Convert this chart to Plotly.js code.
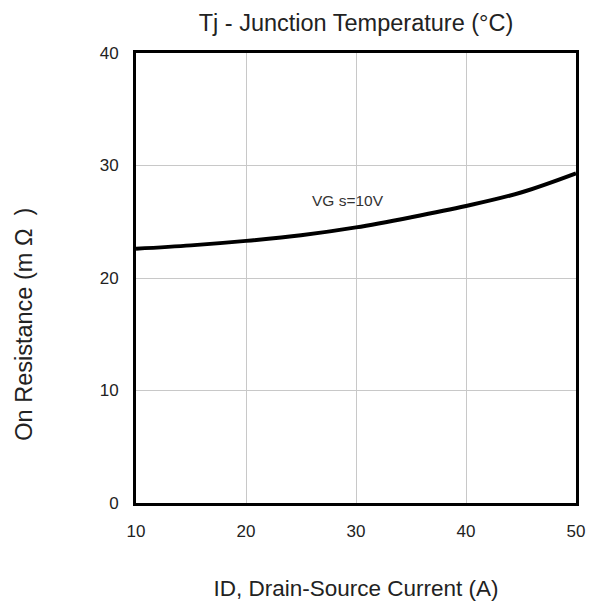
<!DOCTYPE html>
<html>
<head>
<meta charset="utf-8">
<script src="https://cdn.plot.ly/plotly-3.0.1.min.js"></script>
<style>
  html, body { margin: 0; padding: 0; background: #fff; }
  #chart { width: 591px; height: 603px; }
</style>
</head>
<body>
<div id="chart"></div>
<script>
// On-resistance versus drain current at VGS = 10 V
const drainCurrent = [10, 15, 20, 25, 30, 35, 40, 45, 50];
const onResistance = [22.6, 22.9, 23.3, 23.8, 24.5, 25.4, 26.4, 27.6, 29.3];

const xTicks = [10, 20, 30, 40, 50];
const yTicks = [0, 10, 20, 30, 40];

const tickFont = { family: 'Liberation Sans, Arial, sans-serif', size: 17, color: '#222' };
const titleFont = { family: 'Liberation Sans, Arial, sans-serif', size: 22.5, color: '#222' };

const trace = {
  x: drainCurrent,
  y: onResistance,
  type: 'scatter',
  mode: 'lines',
  line: { color: '#000', width: 4, shape: 'spline', smoothing: 1 },
  hoverinfo: 'x+y'
};

const layout = {
  width: 591,
  height: 603,
  margin: { l: 136, r: 15, t: 53, b: 100 },
  paper_bgcolor: '#fff',
  plot_bgcolor: '#fff',
  showlegend: false,
  title: {
    text: 'Tj - Junction Temperature (°C)',
    font: { family: 'Liberation Sans, Arial, sans-serif', size: 23.5, color: '#222' },
    xref: 'paper', x: 0.5, xanchor: 'center',
    yref: 'container', y: 0.962, yanchor: 'middle'
  },
  xaxis: {
    range: [10, 50],
    tickvals: xTicks,
    ticktext: xTicks.map(String),
    ticks: '',
    tickfont: tickFont,
    showgrid: true,
    gridcolor: '#c8c8c8',
    gridwidth: 1,
    zeroline: false,
    showline: true,
    linecolor: '#000',
    linewidth: 3,
    mirror: true,
    ticklabelstandoff: 11,
    title: { text: 'ID, Drain-Source Current (A)', font: titleFont, standoff: 40 }
  },
  yaxis: {
    range: [0, 40],
    tickvals: yTicks,
    ticktext: yTicks.map(String),
    ticks: '',
    tickfont: tickFont,
    showgrid: true,
    gridcolor: '#c8c8c8',
    gridwidth: 1,
    zeroline: false,
    showline: true,
    linecolor: '#000',
    linewidth: 3,
    mirror: true,
    ticklabelstandoff: 11
  },
  annotations: [
    {
      // y-axis title, placed by hand so it sits slightly below the plot centre
      xref: 'paper', yref: 'paper',
      x: -0.255, y: 0.398,
      xanchor: 'center', yanchor: 'middle',
      textangle: -90,
      text: 'On Resistance (m\u00a0Ω\u00a0\u00a0)',
      showarrow: false,
      font: { family: 'Liberation Sans, Arial, sans-serif', size: 23.5, color: '#222' }
    },
    {
      x: 29.3, y: 26.9,
      xref: 'x', yref: 'y',
      text: 'VG s=10V',
      showarrow: false,
      font: { family: 'Liberation Sans, Arial, sans-serif', size: 15.5, color: '#333' }
    }
  ]
};

Plotly.newPlot('chart', [trace], layout, { displayModeBar: false, staticPlot: true });
</script>
</body>
</html>
